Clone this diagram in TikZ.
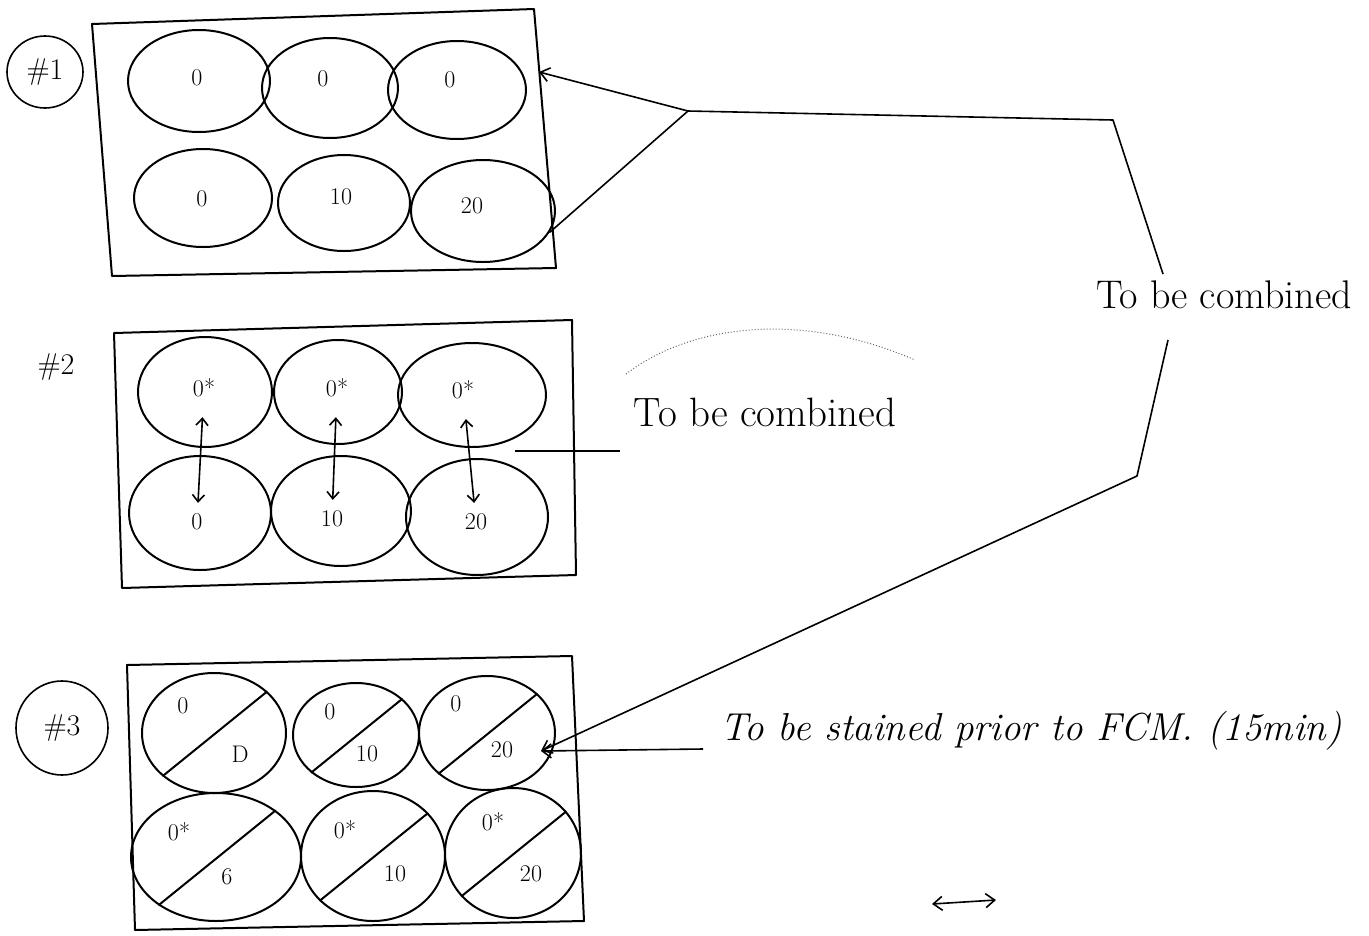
\documentclass[tikz,border=0pt]{standalone}
\usepackage{fontspec}
\usetikzlibrary{arrows.meta,positioning,shapes.geometric}
\tikzset{
  well/.style={draw,ellipse,line width=2pt,inner sep=0pt},
  num/.style={inner sep=1pt,font=\fontsize{24}{26}\selectfont},
  hand/.style={inner sep=1pt,font=\fontsize{41}{44}\selectfont},
  tag/.style={inner sep=1pt,line width=1.6pt,font=\fontsize{30}{32}\selectfont},
  link/.style={line width=1.6pt},
  tip/.style={-{Straight Barb[length=9pt,width=14pt]}},
  both/.style={{Straight Barb[length=7pt,width=12pt]}-{Straight Barb[length=7pt,width=12pt]}},
}
\begin{document}
\begin{tikzpicture}[x=1pt,y=-1pt,line width=2pt,line join=round]
\useasboundingbox (0,0) rectangle (1369,935);
\draw (92,24)--(534,9)--(556,268)--(112,276)--cycle;
\draw (114,333)--(572,320)--(576,575)--(122,588)--cycle;
\draw (127,665)--(572,656)--(584,921)--(135,930)--cycle;
\foreach \n/\x/\y/\w/\h in {p1a/199/81/142pt/102pt,p1b/330/88/136pt/100pt,p1c/457/90/138pt/98pt,
  p1d/203/198/138pt/98pt,p1e/344/203/132pt/96pt,p1f/483/211/144pt/102pt,
  p2a/205/392/134pt/110pt,p2b/338/392/128pt/104pt,p2c/472/395/148pt/104pt,
  p2d/200/513/142pt/114pt,p2e/341/511/140pt/110pt,p2f/477/517/142pt/116pt,
  p3a/214/733/144pt/120pt,p3b/356/735/126pt/104pt,p3c/487/733/136pt/114pt,
  p3d/216/857/170pt/128pt,p3e/373/856/144pt/130pt,p3f/513/853/136pt/130pt}
  \node[well,minimum width=\w,minimum height=\h] (\n) at (\x,\y) {};
\foreach \n/\x/\y/\t in {l1a/197/78/0,l1b/323/79/0,l1c/450/80/0,l1d/202/199/0,l1e/341/197/10,l1f/472/206/20,
  l2a/204/388/0*,l2b/337/388/0*,l2c/463/390/0*,l2d/197/522/0,l2e/332/519/10,l2f/476/522/20,
  k3a/183/706/0,l3a/240/754/D,k3b/330/712/0,l3b/367/754/10,k3c/456/704/0,l3c/502/750/20,
  k3d/179/832/0*,l3d/227/877/6,k3e/345/830/0*,l3e/395/874/10,k3f/493/822/0*,l3f/531/874/20}
  \node[num] (\n) at (\x,\y) {\t};
\foreach \a/\b in {l2a/l2d,l2b/l2e,l2c/l2f}
  \draw[link,both,shorten <=18pt,shorten >=9pt] (\a) -- (\b);
\foreach \w in {p3a,p3b,p3c,p3d,p3e,p3f}
  \draw (\w.220) -- (\w.38);
\node[draw,ellipse,minimum width=76pt,minimum height=72pt,tag] (t1) at (45,72) {\#1};
\node[tag] (t2) at (56,367) {\#2};
\node[draw,ellipse,minimum width=92pt,minimum height=94pt,tag] (t3) at (62,728) {\#3};
\node[hand] (mt) at (765,412) {To be combined};
\node[hand,font=\fontsize{40}{44}\selectfont] (rt) at (1224,295) {To be combined};
\node[hand,font=\fontsize{39}{42}\selectfont\itshape] (st) at (1031,731) {To be stained prior to FCM. (15min)};
\coordinate (j1) at (688,111);
\coordinate (e1) at (539,72);
\coordinate (j2) at (1113,120);
\coordinate (c1) at (1163,274);
\coordinate (c2) at (1168,340);
\coordinate (j3) at (1137,476);
\coordinate (tp) at (541,751);
\coordinate (s1) at (703,749);
\coordinate (m1) at (515,451);
\coordinate (m2) at (620,451);
\coordinate (da) at (932,904);
\coordinate (db) at (996,900);
\draw[link,tip] (j1) -- (e1);
\draw[link] (p1f.-18) -- (j1) -- (j2) -- (c1);
\draw[link,tip] (c2) -- (j3) -- (tp);
\draw[link,tip] (s1) -- (tp);
\draw[link] (m1) -- (m2);
\draw[line width=1pt,dotted,black!60] (626,374) .. controls (690,325) and (800,310) .. (915,360);
\draw[link,{Straight Barb[length=9pt,width=14pt]}-{Straight Barb[length=9pt,width=14pt]}] (da) -- (db);
\end{tikzpicture}
\end{document}
